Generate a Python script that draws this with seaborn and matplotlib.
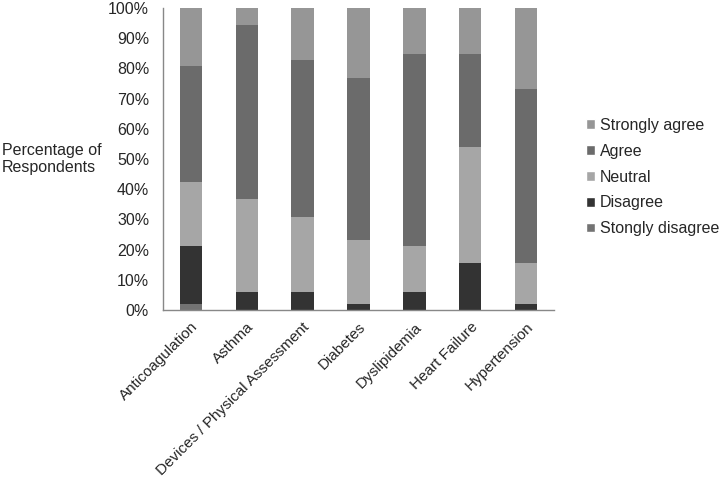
import matplotlib
matplotlib.use("Agg")
import matplotlib.pyplot as plt
import seaborn as sns
import numpy as np
from matplotlib.patches import Patch
from matplotlib.ticker import FixedLocator, PercentFormatter

categories = ["Anticoagulation", "Asthma", "Devices / Physical Assessment",
              "Diabetes", "Dyslipidemia", "Heart Failure", "Hypertension"]
# percentages of respondents (n = 52)
strongly_disagree = [1.9, 0.0, 0.0, 0.0, 0.0, 0.0, 0.0]
disagree = [19.2, 5.8, 5.8, 1.9, 5.8, 15.4, 1.9]
neutral = [21.2, 30.8, 25.0, 21.2, 15.4, 38.5, 13.5]
agree = [38.5, 57.7, 51.9, 53.8, 63.5, 30.8, 57.7]
strongly_agree = [19.2, 5.8, 17.3, 23.1, 15.4, 15.4, 26.9]

series = [("Stongly disagree", strongly_disagree, "#737373"),
          ("Disagree", disagree, "#333333"),
          ("Neutral", neutral, "#a6a6a6"),
          ("Agree", agree, "#6b6b6b"),
          ("Strongly agree", strongly_agree, "#969696")]

sns.set_style("white")
plt.rcParams['font.family'] = ['Liberation Sans', 'DejaVu Sans']
FS = 11.5

fig = plt.figure(figsize=(7.19, 4.8), dpi=100)
ax = fig.add_axes([163/719, 170/480, 391/719, 302/480])

bottom = np.zeros(len(categories))
for name, vals, col in series:
    sns.barplot(x=categories, y=vals, bottom=bottom, color=col, width=0.4,
                ax=ax, linewidth=0, saturation=1)
    bottom = bottom + np.array(vals)

ax.set_xlim(-0.5, len(categories) - 0.5)
ax.set_ylim(0, 100)
ax.set_yticks(np.arange(0, 101, 10))
ax.yaxis.set_major_formatter(PercentFormatter(decimals=0))
ax.set_xticks(range(len(categories)))
ax.set_xticklabels(categories, rotation=45, ha="right", rotation_mode="anchor",
                   fontsize=11)
ax.tick_params(axis="x", which="major", length=0, pad=7)
ax.xaxis.set_minor_locator(FixedLocator(np.arange(-0.5, len(categories), 1.0)))
ax.tick_params(axis="x", which="minor", length=5, color="#888888", direction="out")
ax.tick_params(axis="y", length=5, color="#888888", direction="out", labelsize=FS, pad=5)
for s in ["top", "right"]:
    ax.spines[s].set_visible(False)
for s in ["left", "bottom"]:
    ax.spines[s].set_color("#888888")
    ax.spines[s].set_linewidth(1)
ax.set_xlabel("")
ax.set_ylabel("")

fig.text(2/719, 1 - 159/480, "Percentage of\nRespondents", ha="left", va="center",
         fontsize=FS, linespacing=1.2)

handles = [Patch(facecolor=c, label=n) for n, v, c in reversed(series)]
leg = fig.legend(handles=handles, loc="center left", bbox_to_anchor=(586/719, 1 - 177/480),
                 frameon=False, fontsize=FS, handlelength=0.55, handleheight=0.55,
                 handletextpad=0.3, labelspacing=0.68, borderpad=0, borderaxespad=0)

fig.savefig("out.png", dpi=100)
